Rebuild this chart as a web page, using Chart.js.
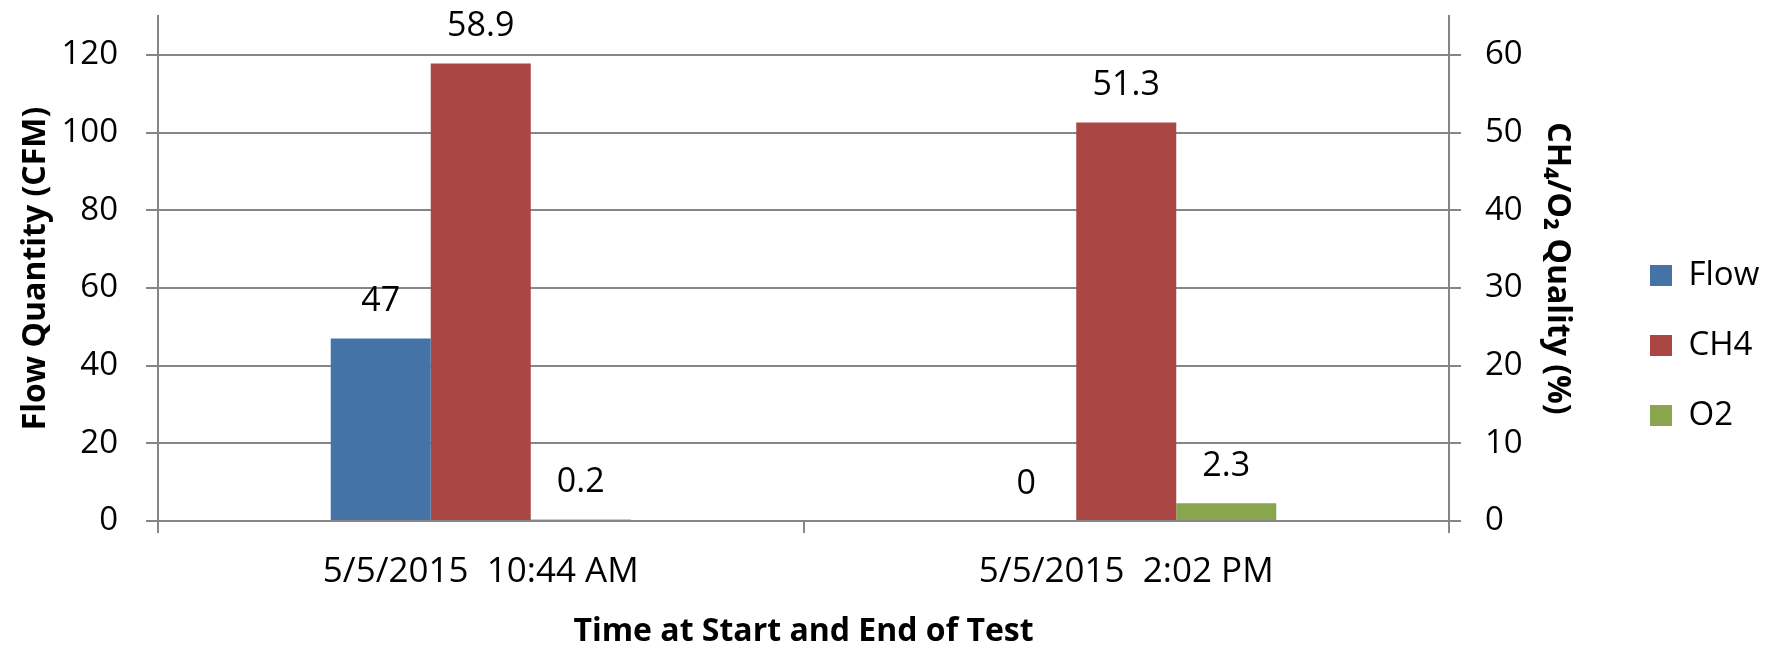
<!DOCTYPE html>
<html>
<head>
<meta charset="utf-8">
<script src="https://cdn.jsdelivr.net/npm/chart.js@4.4.1/dist/chart.umd.min.js"></script>
<style>
  html, body { margin: 0; padding: 0; background: #ffffff; }
  canvas { display: block; }
</style>
</head>
<body>
<canvas id="chart" width="1777" height="649"></canvas>
<script>
// Test readings at start and end of the run
const categories = ['5/5/2015  10:44 AM', '5/5/2015  2:02 PM'];
const seriesNames = ['Flow', 'CH4', 'O2'];
const flowCfm = [47, 0];
const ch4Pct = [58.9, 51.3];
const o2Pct = [0.2, 2.3];

// Tick values shown on each value axis
const flowTicks = [0, 20, 40, 60, 80, 100, 120];
const qualityTicks = [0, 10, 20, 30, 40, 50, 60];

const FONT = "'Open Sans', 'DejaVu Sans', sans-serif";
const GRID = '#868686';

// Writes each bar's value above it
const valueLabels = {
  id: 'valueLabels',
  afterDatasetsDraw(chart) {
    const ctx = chart.ctx;
    ctx.save();
    ctx.font = '34px ' + FONT;
    ctx.fillStyle = '#000000';
    ctx.textAlign = 'center';
    ctx.textBaseline = 'middle';
    chart.data.datasets.forEach((ds, i) => {
      chart.getDatasetMeta(i).data.forEach((bar, j) => {
        ctx.fillText(String(ds.data[j]), bar.x, bar.y - 37);
      });
    });
    ctx.restore();
  }
};

const barShape = { categoryPercentage: 0.4648, barPercentage: 1.0, borderWidth: 0 };

new Chart(document.getElementById('chart'), {
  type: 'bar',
  data: {
    labels: categories,
    datasets: [
      { label: seriesNames[0], data: flowCfm, backgroundColor: '#4572A7', yAxisID: 'y', ...barShape },
      { label: seriesNames[1], data: ch4Pct, backgroundColor: '#AA4643', yAxisID: 'y1', ...barShape },
      { label: seriesNames[2], data: o2Pct, backgroundColor: '#89A54E', yAxisID: 'y1', ...barShape }
    ]
  },
  options: {
    responsive: false,
    devicePixelRatio: 1,
    animation: false,
    layout: { padding: { top: 16, left: 0, right: 14, bottom: 0 } },
    plugins: {
      tooltip: { enabled: false },
      legend: {
        position: 'right',
        maxWidth: 150,
        title: { display: true, text: '', padding: 0, font: { size: 26, lineHeight: 1 } },
        labels: {
          boxWidth: 22,
          boxHeight: 21,
          padding: 37,
          color: '#000000',
          font: { family: FONT, size: 33 }
        }
      }
    },
    scales: {
      x: {
        type: 'category',
        offset: true,
        z: 1,
        grid: { offset: true, drawOnChartArea: false, drawTicks: true, tickLength: 12, color: GRID, lineWidth: 2 },
        border: { display: true, color: GRID, width: 2 },
        ticks: { color: '#000000', padding: 22, maxRotation: 0, autoSkip: false, font: { family: FONT, size: 35, lineHeight: 1 } },
        title: {
          display: true,
          text: 'Time at Start and End of Test',
          color: '#000000',
          padding: { top: 0, bottom: 1 },
          font: { family: FONT, size: 32, weight: 'bold', lineHeight: 1 }
        },
        afterFit(scale) { scale.height = 128; scale.paddingLeft = 0; scale.paddingRight = 0; }
      },
      y: {
        type: 'linear',
        position: 'left',
        min: 0,
        max: 130,
        afterBuildTicks(scale) { scale.ticks = flowTicks.map(v => ({ value: v })); },
        grid: { drawOnChartArea: true, drawTicks: true, tickLength: 12, color: GRID, lineWidth: 2 },
        border: { display: true, color: GRID, width: 2 },
        ticks: { color: '#000000', padding: 28, font: { family: FONT, size: 33, lineHeight: 1 } },
        title: {
          display: true,
          text: 'Flow Quantity (CFM)',
          color: '#000000',
          padding: { top: 20, bottom: 0 },
          font: { family: FONT, size: 32, weight: 'bold', lineHeight: 1 }
        },
        afterFit(scale) { scale.width = 158; scale.paddingTop = 0; scale.paddingBottom = 0; }
      },
      y1: {
        type: 'linear',
        position: 'right',
        min: 0,
        max: 65,
        afterBuildTicks(scale) { scale.ticks = qualityTicks.map(v => ({ value: v })); },
        grid: { drawOnChartArea: false, drawTicks: true, tickLength: 12, color: GRID, lineWidth: 2 },
        border: { display: true, color: GRID, width: 2 },
        ticks: { color: '#000000', padding: 24, font: { family: FONT, size: 33, lineHeight: 1 } },
        title: {
          display: true,
          text: 'CH\u2084/O\u2082 Quality (%)',
          color: '#000000',
          padding: { top: 40, bottom: 0 },
          font: { family: FONT, size: 32, weight: 'bold', lineHeight: 1 }
        },
        afterFit(scale) { scale.width = 164; scale.paddingTop = 0; scale.paddingBottom = 0; }
      }
    }
  },
  plugins: [valueLabels]
});
</script>
</body>
</html>
